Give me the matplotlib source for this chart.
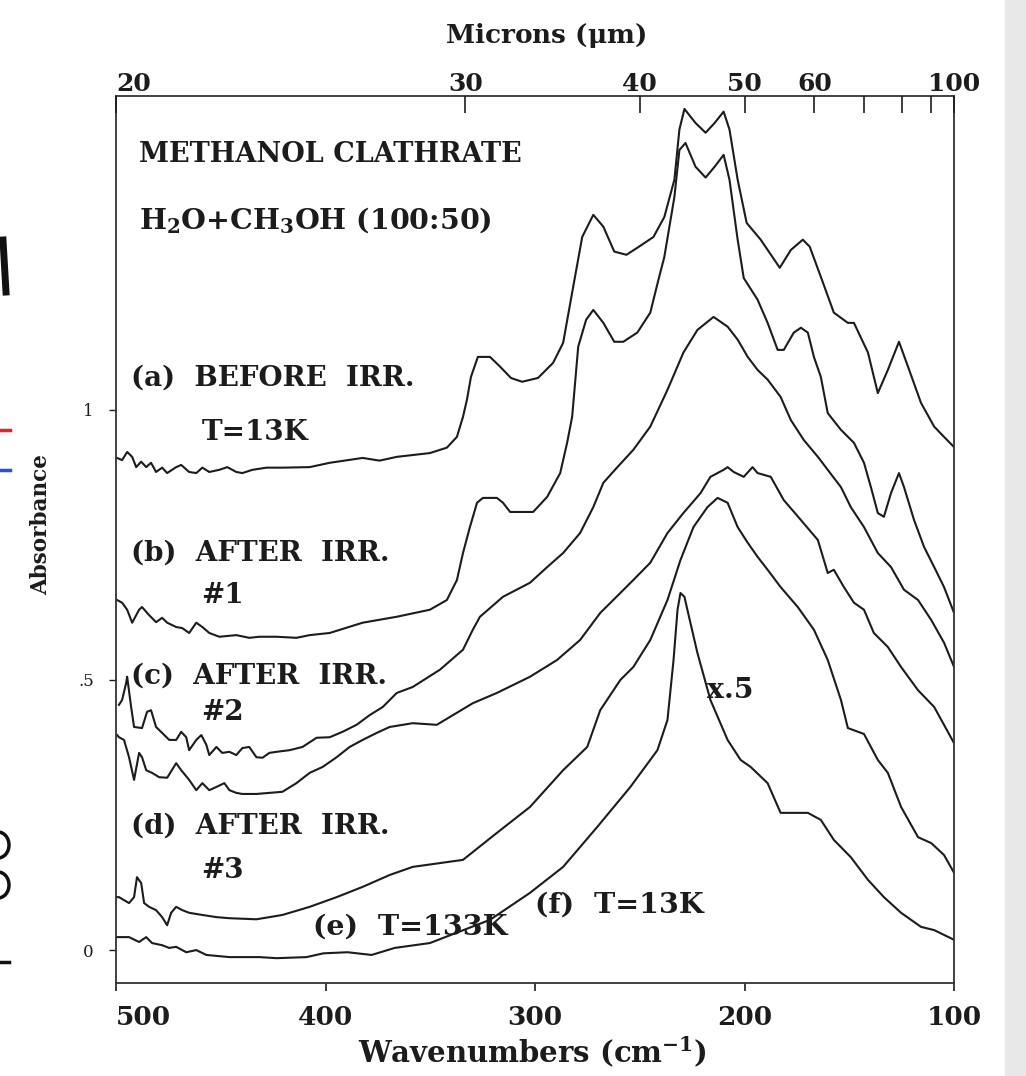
import matplotlib
matplotlib.use("Agg")
import matplotlib.pyplot as plt
from matplotlib.lines import Line2D
from matplotlib.patches import Rectangle, Ellipse

# ---- data: wavenumber (cm-1) and absorbance ----
# (a) before irradiation, T=13K
wn_a = [499.5, 497.1, 494.7, 492.3, 490.4, 488.0, 485.6, 483.3, 480.9, 478.0,
        475.6, 471.3, 468.9, 465.1, 461.7, 458.8, 455.5, 450.7, 446.9, 442.6,
        439.7, 434.9, 428.2, 420.6, 407.6, 398.0, 382.3, 374.2, 366.0, 350.2,
        342.1, 337.3, 334.4, 332.5, 330.6, 327.3, 321.5, 316.7, 311.5, 306.2,
        298.6, 291.4, 286.6, 282.3, 277.5, 272.2, 267.4, 262.2, 256.4, 251.2,
        243.5, 238.3, 233.5, 231.1, 228.7, 223.4, 218.6, 214.3, 210.0, 207.2,
        203.3, 199.0, 192.3, 183.2, 177.9, 172.2, 168.9, 163.1, 157.4, 150.7,
        147.8, 141.1, 136.4, 131.6, 126.3, 122.0, 115.8, 109.5, 104.8, 100.0]
abs_a = [0.911, 0.907, 0.922, 0.913, 0.894, 0.904, 0.894, 0.902, 0.885, 0.893,
         0.883, 0.894, 0.898, 0.885, 0.883, 0.893, 0.885, 0.889, 0.894, 0.885,
         0.883, 0.889, 0.893, 0.893, 0.894, 0.902, 0.911, 0.906, 0.913, 0.920,
         0.930, 0.950, 0.987, 1.019, 1.061, 1.098, 1.098, 1.080, 1.059, 1.052,
         1.059, 1.087, 1.124, 1.217, 1.320, 1.361, 1.339, 1.293, 1.287, 1.300,
         1.320, 1.357, 1.426, 1.519, 1.557, 1.531, 1.513, 1.531, 1.552, 1.519,
         1.426, 1.346, 1.315, 1.263, 1.296, 1.315, 1.302, 1.241, 1.180, 1.161,
         1.161, 1.106, 1.031, 1.074, 1.126, 1.080, 1.013, 0.969, 0.950, 0.931]

# (b) after irradiation #1
wn_b = [499.5, 497.1, 494.7, 492.3, 489.0, 487.6, 484.2, 480.9, 478.0, 475.6,
        471.3, 468.4, 465.1, 461.7, 458.8, 455.5, 450.7, 442.6, 436.4, 431.6,
        423.4, 413.9, 407.6, 398.0, 382.3, 366.0, 350.2, 342.1, 337.3, 334.4,
        331.1, 327.7, 324.9, 318.2, 315.3, 311.9, 300.9, 294.2, 288.0, 284.7,
        282.3, 279.4, 275.6, 272.2, 267.4, 262.2, 257.9, 251.2, 245.0, 241.1,
        238.3, 233.5, 231.1, 228.2, 223.4, 218.6, 214.3, 210.0, 207.2, 203.3,
        200.4, 193.8, 189.0, 184.2, 181.3, 176.5, 173.1, 169.8, 166.9, 163.6,
        160.3, 154.0, 147.8, 143.0, 139.7, 136.4, 133.5, 130.1, 126.3, 123.9,
        119.1, 114.3, 109.5, 104.8, 100.0]
abs_b = [0.648, 0.643, 0.630, 0.606, 0.630, 0.635, 0.620, 0.607, 0.615, 0.606,
         0.598, 0.596, 0.587, 0.606, 0.598, 0.587, 0.580, 0.583, 0.578, 0.580,
         0.580, 0.578, 0.583, 0.587, 0.606, 0.617, 0.630, 0.648, 0.685, 0.735,
         0.783, 0.828, 0.837, 0.837, 0.828, 0.811, 0.811, 0.839, 0.883, 0.939,
         0.987, 1.117, 1.167, 1.185, 1.161, 1.126, 1.126, 1.143, 1.180, 1.241,
         1.283, 1.394, 1.481, 1.494, 1.450, 1.430, 1.450, 1.472, 1.426, 1.315,
         1.244, 1.204, 1.161, 1.111, 1.111, 1.143, 1.152, 1.143, 1.098, 1.061,
         0.994, 0.963, 0.939, 0.902, 0.857, 0.809, 0.802, 0.846, 0.883, 0.857,
         0.796, 0.746, 0.709, 0.672, 0.624]

# (c) after irradiation #2
wn_c = [498.6, 497.1, 495.2, 494.7, 492.8, 491.4, 487.6, 485.2, 483.3, 480.9,
        478.0, 474.6, 471.3, 468.9, 466.5, 465.1, 461.7, 459.3, 456.9, 455.5,
        452.1, 449.3, 445.9, 442.6, 439.7, 436.4, 433.0, 430.1, 426.8, 423.4,
        417.2, 411.0, 404.3, 398.0, 391.9, 385.2, 378.9, 372.7, 366.0, 358.4,
        345.4, 334.4, 329.7, 326.3, 315.3, 302.4, 294.2, 286.6, 278.5, 272.2,
        267.4, 260.7, 253.1, 245.0, 236.8, 229.2, 222.5, 214.8, 208.1, 203.3,
        198.5, 193.8, 189.0, 182.8, 177.9, 171.7, 165.0, 160.3, 154.0, 149.3,
        143.0, 136.4, 130.1, 123.9, 117.2, 110.9, 104.8, 100.0]
abs_c = [0.454, 0.463, 0.494, 0.506, 0.450, 0.413, 0.411, 0.441, 0.444, 0.413,
         0.402, 0.389, 0.389, 0.404, 0.394, 0.370, 0.389, 0.398, 0.380, 0.361,
         0.376, 0.365, 0.367, 0.361, 0.374, 0.376, 0.357, 0.356, 0.365, 0.367,
         0.370, 0.376, 0.393, 0.394, 0.404, 0.417, 0.435, 0.450, 0.476, 0.487,
         0.519, 0.556, 0.593, 0.617, 0.654, 0.680, 0.709, 0.735, 0.772, 0.820,
         0.865, 0.894, 0.926, 0.969, 1.037, 1.106, 1.148, 1.172, 1.154, 1.130,
         1.098, 1.074, 1.056, 1.024, 0.981, 0.944, 0.913, 0.889, 0.857, 0.820,
         0.783, 0.735, 0.709, 0.667, 0.648, 0.611, 0.569, 0.524]

# (d) after irradiation #3
wn_d = [499.5, 498.6, 496.2, 493.8, 491.4, 489.0, 487.6, 485.6, 482.8, 479.4,
        475.6, 471.3, 468.9, 465.1, 461.7, 458.8, 455.5, 452.1, 448.3, 445.9,
        442.6, 439.7, 433.0, 426.8, 420.6, 413.9, 407.6, 401.4, 394.7, 388.5,
        382.3, 375.6, 369.4, 358.4, 346.9, 329.7, 318.2, 302.4, 289.5, 278.5,
        268.9, 259.3, 253.1, 245.0, 236.8, 229.2, 221.0, 216.3, 210.0, 208.1,
        205.2, 200.4, 196.2, 193.8, 187.5, 181.3, 173.1, 165.0, 160.3, 157.4,
        152.6, 147.8, 143.0, 138.3, 131.6, 125.3, 117.2, 109.5, 100.0]
abs_d = [0.398, 0.394, 0.389, 0.357, 0.315, 0.365, 0.357, 0.333, 0.328, 0.320,
         0.319, 0.346, 0.333, 0.315, 0.296, 0.309, 0.296, 0.302, 0.309, 0.296,
         0.291, 0.289, 0.289, 0.291, 0.293, 0.309, 0.328, 0.339, 0.357, 0.376,
         0.389, 0.402, 0.413, 0.420, 0.417, 0.457, 0.476, 0.506, 0.537, 0.574,
         0.624, 0.661, 0.685, 0.717, 0.772, 0.809, 0.846, 0.876, 0.889, 0.894,
         0.885, 0.876, 0.894, 0.883, 0.876, 0.833, 0.796, 0.759, 0.698, 0.704,
         0.672, 0.643, 0.630, 0.587, 0.561, 0.524, 0.481, 0.450, 0.383]

# (e) T=133K
wn_e = [499.5, 498.6, 493.8, 491.4, 490.0, 488.0, 486.6, 484.2, 480.9, 478.0,
        475.6, 473.7, 471.3, 468.4, 465.1, 458.8, 452.1, 445.9, 433.0, 420.6,
        407.6, 394.7, 382.3, 369.4, 358.4, 334.4, 318.2, 302.4, 286.6, 275.1,
        268.9, 259.3, 253.1, 245.0, 236.8, 230.6, 224.4, 217.7, 212.9, 208.1,
        203.3, 198.5, 193.8, 189.0, 182.8, 174.6, 166.9, 160.3, 154.0, 150.7,
        143.0, 136.4, 131.6, 125.3, 117.2, 110.9, 104.8, 100.0]
abs_e = [0.098, 0.098, 0.087, 0.098, 0.135, 0.124, 0.087, 0.080, 0.074, 0.061,
         0.046, 0.069, 0.080, 0.074, 0.069, 0.065, 0.061, 0.059, 0.057, 0.065,
         0.080, 0.098, 0.117, 0.139, 0.154, 0.167, 0.217, 0.265, 0.333, 0.376,
         0.444, 0.500, 0.524, 0.574, 0.648, 0.722, 0.783, 0.820, 0.837, 0.828,
         0.783, 0.754, 0.728, 0.704, 0.672, 0.635, 0.593, 0.537, 0.463, 0.411,
         0.400, 0.352, 0.328, 0.265, 0.209, 0.198, 0.176, 0.143]

# (f) T=13K, scaled x.5
wn_f = [499.5, 493.8, 489.0, 485.6, 482.8, 478.0, 474.6, 471.3, 466.5, 461.7,
        456.9, 445.9, 431.6, 423.4, 409.1, 401.0, 389.5, 378.0, 367.0, 350.2,
        321.5, 302.4, 286.6, 270.3, 254.5, 241.6, 236.8, 233.9, 232.0, 230.6,
        228.7, 227.3, 222.5, 216.3, 208.1, 201.9, 197.1, 189.0, 182.8, 169.8,
        163.6, 157.4, 149.3, 141.1, 133.5, 125.3, 115.8, 109.5, 100.0]
abs_f = [0.024, 0.024, 0.015, 0.024, 0.013, 0.009, 0.004, 0.006, -0.004, 0.000,
         -0.009, -0.013, -0.013, -0.015, -0.013, -0.006, -0.004, -0.009, 0.004, 0.013,
         0.056, 0.106, 0.154, 0.228, 0.302, 0.370, 0.426, 0.537, 0.630, 0.661,
         0.654, 0.630, 0.550, 0.463, 0.389, 0.352, 0.339, 0.309, 0.254, 0.254,
         0.241, 0.204, 0.172, 0.130, 0.098, 0.069, 0.043, 0.037, 0.019]

wn_ticks = [500, 400, 300, 200, 100]
abs_ticks = [0, 0.5, 1]
abs_tick_labels = ["0", ".5", "1"]
micron_ticks = [20, 30, 40, 50, 60, 70, 80, 90, 100]
micron_labels = ["20", "30", "40", "50", "60", "", "", "", "100"]

# text labels inside the plot: (text, wavenumber, absorbance, font size)
notes = [
    ("METHANOL CLATHRATE", 489.0, 1.472, 19.5),
    ("H$_2$O+CH$_3$OH (100:50)", 489.0, 1.352, 20.5),
    ("(a)  BEFORE  IRR.", 492.8, 1.059, 20),
    ("T=13K", 459.3, 0.959, 20),
    ("(b)  AFTER  IRR.", 492.8, 0.735, 20),
    ("#1", 459.3, 0.656, 20),
    ("(c)  AFTER  IRR.", 492.8, 0.507, 20),
    ("#2", 459.3, 0.439, 20),
    ("(d)  AFTER  IRR.", 492.8, 0.230, 20),
    ("#3", 459.3, 0.148, 20),
    ("(e)  T=133K", 406.2, 0.043, 20.5),
    ("(f)  T=13K", 300.0, 0.083, 20.5),
    ("x.5", 217.7, 0.481, 20.5),
]

plt.rcParams["font.family"] = ["DejaVu Serif"]
plt.rcParams["font.weight"] = "bold"
plt.rcParams["mathtext.fontset"] = "dejavuserif"
plt.rcParams["mathtext.default"] = "bf"

ink = "#1c1c1c"

fig = plt.figure(figsize=(10.26, 10.76), dpi=100)
ax = fig.add_axes([0.1131, 0.0864, 0.8168, 0.8244])

for wn, ab in [(wn_a, abs_a), (wn_b, abs_b), (wn_c, abs_c),
               (wn_d, abs_d), (wn_e, abs_e), (wn_f, abs_f)]:
    ax.plot(wn, ab, color=ink, lw=1.5)

ax.set_xlim(500, 100)
ax.set_ylim(-0.061, 1.581)

ax.set_xticks(wn_ticks)
ax.set_xticklabels([str(t) for t in wn_ticks])
ax.tick_params(axis="x", direction="out", length=6, width=1.2, labelsize=19,
               pad=10, colors=ink)
ax.set_yticks(abs_ticks)
ax.set_yticklabels(abs_tick_labels)
ax.tick_params(axis="y", direction="out", length=5, width=1.0, labelsize=12,
               pad=11, colors=ink)
for lab in ax.get_yticklabels():
    lab.set_fontweight("normal")
ax.get_xticklabels()[0].set_ha("left")

for s in ax.spines.values():
    s.set_linewidth(1.3)
    s.set_color("#333333")

top = ax.twiny()
top.set_xlim(ax.get_xlim())
top.set_xticks([1e4 / m for m in micron_ticks])
top.set_xticklabels(micron_labels)
top.tick_params(axis="x", direction="in", length=12, width=1.2, labelsize=18,
                pad=0, colors=ink)
top.get_xticklabels()[0].set_ha("left")
for s in top.spines.values():
    s.set_visible(False)

# axis titles
fig.text(532 / 1026, 1 - 1052 / 1076, "Wavenumbers (cm$^{-1}$)", fontsize=21,
         fontweight="bold", color=ink, ha="center", va="center")
fig.text(546 / 1026, 1 - 35 / 1076, "Microns ($\\mu$m)", fontsize=19,
         fontweight="bold", color=ink, ha="center", va="center")
fig.text(41 / 1026, 1 - 525 / 1076, "Absorbance", fontsize=15.5,
         fontweight="bold", color=ink, ha="center", va="center", rotation=90)

for text, x, y, size in notes:
    ax.text(x, y, text, fontsize=size, color=ink, ha="left", va="center")

# scan border: grey strip at right and fragments of the neighbouring slide at left
fig.patches.append(Rectangle((1005 / 1026, 0), 21 / 1026, 1,
                             transform=fig.transFigure, color="#e8e8e8", zorder=0))
for y0, col in [(1 - 430 / 1076, "#e8202a"), (1 - 470 / 1076, "#2a4de0")]:
    fig.add_artist(Line2D([0, 10 / 1026], [y0, y0], color=col, lw=2.5))
fig.add_artist(Line2D([3 / 1026, 6 / 1026], [1 - 240 / 1076, 1 - 292 / 1076],
                      color="#111111", lw=5))
fig.add_artist(Line2D([0, 9 / 1026], [1 - 962 / 1076, 1 - 962 / 1076],
                      color="#111111", lw=2.5))
for yc in (845, 885):
    fig.add_artist(Ellipse((-2 / 1026, 1 - yc / 1076), 22 / 1026, 26 / 1076,
                           transform=fig.transFigure, fill=False,
                           edgecolor="#111111", lw=2.5))

fig.savefig("out.png", dpi=100, facecolor="white")
